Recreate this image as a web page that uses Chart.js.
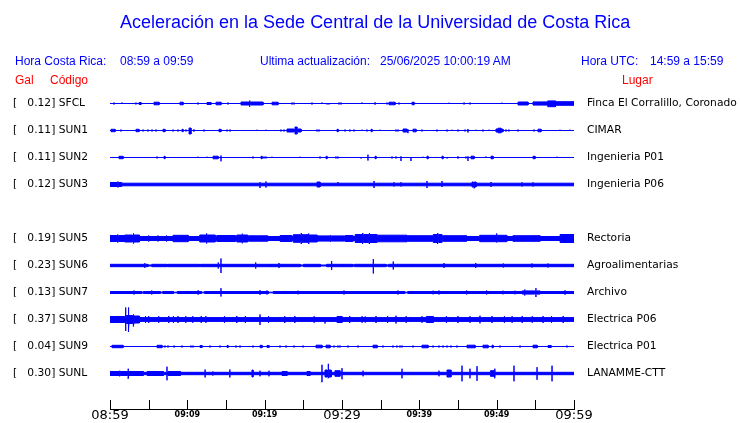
<!DOCTYPE html>
<html>
<head>
<meta charset="utf-8">
<script src="https://cdn.jsdelivr.net/npm/chart.js@4.4.1/dist/chart.umd.min.js"></script>
<style>
  html, body { margin: 0; padding: 0; background: #fff; }
  #wrap { position: relative; width: 740px; height: 423px; overflow: hidden; }
  canvas { position: absolute; left: 0; top: 0; }
  .t { position: absolute; white-space: pre; font-family: "Liberation Sans", Arial, sans-serif;
       font-size: 12px; line-height: 12px; color: #0000ff; }
  .r { color: #ff0000; }
  #title { font-size: 18px; line-height: 18px; left: 120px; top: 13px; }
</style>
</head>
<body>
<div id="wrap">
  <canvas id="c" width="740" height="423"></canvas>
  <div class="t" id="title">Aceleración en la Sede Central de la Universidad de Costa Rica</div>
  <div class="t" style="left:15px;top:55px">Hora Costa Rica:</div>
  <div class="t" style="left:120px;top:55px">08:59 a 09:59</div>
  <div class="t" style="left:260px;top:55px">Ultima actualización:</div>
  <div class="t" style="left:380px;top:55px">25/06/2025 10:00:19 AM</div>
  <div class="t" style="left:581px;top:55px">Hora UTC:</div>
  <div class="t" style="left:650px;top:55px">14:59 a 15:59</div>
  <div class="t r" style="left:15px;top:74px">Gal</div>
  <div class="t r" style="left:50px;top:74px">Código</div>
  <div class="t r" style="left:622px;top:74px">Lugar</div>
</div>
<script>
// stations, top to bottom (slot 4 is left empty)
const stations = ['SFCL', 'SUN1', 'SUN2', 'SUN3', 'SUN5', 'SUN6', 'SUN7', 'SUN8', 'SUN9', 'SUNL'];
const peakGal = ['0.12', '0.11', '0.11', '0.12', '0.19', '0.23', '0.13', '0.37', '0.04', '0.30'];
const places = ['Finca El Corralillo, Coronado', 'CIMAR', 'Ingenieria P01', 'Ingenieria P06', 'Rectoria',
  'Agroalimentarias', 'Archivo', 'Electrica P06', 'Electrica P01', 'LANAMME-CTT'];
const rowSlots = [0, 1, 2, 3, 5, 6, 7, 8, 9, 10];
const timeLabels = ['08:59', '09:09', '09:19', '09:29', '09:39', '09:49', '09:59'];

// background noise half-width of each trace
const noiseLevel = [0, 0, 0, 1.3, 2, 1.2, 1, 1.9, 0, 1.2];

// bursts: [start min, end min, amplitude up, amplitude down]
const sfclEvents = [[0.52,0.52,1,1],[1.55,1.55,1,0.5],[3.36,3.36,1,1],[3.75,4.01,1,1],[5.69,6.34,1.3,1.3],[9.05,9.44,1.3,1.3],[11.38,11.38,1,1],[12.54,13.06,1,1],[13.71,14.35,1.3,1.3],[15.26,15.26,1,1],[16.94,18.0,1.5,1.5],[18.1,18.1,3,3.3],[18.2,19.78,1.5,1.5],[20.95,21.72,1.3,1.3],[23.53,23.53,1,1],[23.79,23.79,1,1],[26.12,26.12,1,1],[27.41,27.41,1,0],[28.06,28.06,0,1],[28.32,28.32,0,1],[29.61,29.61,1,1],[29.87,29.87,1,1],[32.59,32.59,1,0],[34.27,34.27,1.2,1.2],[35.82,35.82,1,1],[36.08,36.85,1.3,1.3],[37.37,37.37,1,1],[39.05,39.31,1.3,1.3],[43.84,43.84,0.8,0],[45.78,45.78,1,1],[46.55,46.55,1,1],[50.69,50.69,0.8,0],[52.76,54.05,1.5,1.5],[54.7,56.6,1.6,1.6],[56.6,57.6,2.6,3.2],[57.6,60,1.8,1.8]];
const sun1Events = [[0.13,0.65,1.2,1.2],[1.42,1.42,1,1],[3.36,3.75,1.2,1.2],[4.27,4.27,1,1],[4.91,4.91,1,1],[5.43,5.43,1,1],[5.95,5.95,1,1],[6.85,7.11,1.2,1.2],[8.15,8.15,1,1],[8.79,8.79,1,1],[9.31,9.44,1.2,1.2],[9.83,9.83,1,1],[10.22,10.47,2.5,3.5],[10.86,10.86,1.2,1.2],[12.16,12.16,1,1],[14.09,14.35,1.2,1.2],[15.13,15.13,1,1],[15.52,15.52,1,1],[19.01,19.01,0.8,0],[20.17,20.17,0.8,0],[22.11,22.11,1,1],[22.5,22.5,1,1],[22.89,23.79,1.5,1.5],[23.92,24.18,3.5,3.5],[24.31,24.7,1.5,1.5],[26.77,26.77,1,1],[27.03,27.03,1,1],[29.35,29.5,1.2,1.2],[30.39,30.39,1,1],[31.03,31.03,1,1],[31.55,31.55,1,1],[32.59,32.59,0.8,0],[33.23,33.23,1,1],[33.75,33.88,1.2,1.2],[34.91,34.91,0.8,0],[36.98,36.98,1,1],[37.24,37.24,1,1],[37.89,38.4,1.5,1.5],[38.53,38.53,1.2,2.7],[39.18,39.57,1.3,1.3],[40.34,40.34,1,1],[42.28,42.28,1,1],[43.58,43.58,1,1],[44.22,44.22,0.8,0],[45,45,1,1],[45.91,45.91,1,1],[46.29,46.29,1.5,2],[47.33,47.33,0.8,0],[48.23,48.23,1,1],[49.01,49.01,0.8,0],[49.91,50.17,1.5,1.5],[50.17,50.56,2.3,2.3],[50.56,50.82,1.3,1.3],[51.21,51.21,1,1],[51.59,51.59,1,1],[52.76,52.76,1,1],[54.83,54.83,1,1],[55.34,55.73,1.3,1.3],[58.19,58.19,0.8,0],[59.48,59.48,0.8,0]];
const sun2Events = [[1.16,1.68,1.2,1.2],[6.08,6.08,1,1],[6.98,7.11,1.2,1.2],[11.38,11.38,0.8,0],[12.54,12.54,0.8,0],[13.32,13.97,1.3,1.3],[14.35,14.35,2,3.8],[18.49,18.49,1,1],[19.53,19.66,1.2,1.2],[19.91,19.91,1,1],[20.17,20.17,1,1],[20.95,20.95,0.8,0],[24.57,24.57,0.8,0],[27.16,27.16,1,1],[27.93,28.06,1.2,1.2],[29.22,29.22,1,1],[29.48,29.48,1,1],[32.46,32.46,0,1],[33.36,33.36,2.8,3],[34.27,34.4,1.2,1.2],[36.47,36.47,1,1],[36.98,36.98,1,1],[37.63,37.63,1.2,3.5],[38.92,38.92,0,3.5],[40.47,40.47,0.8,0],[40.99,41.12,1.3,1.3],[42.93,43.06,1.3,1.3],[43.58,43.58,0,1],[45,45,1.2,1.2],[46.03,46.03,1,1],[46.29,46.29,1.2,3.5],[46.68,47.07,1.3,1.3],[48.62,48.62,1,0],[49.27,49.53,1.3,1.3],[54.7,54.96,1.2,1.2],[57.8,57.8,0.8,0]];
const sun3Events = [[0,0.9,2,2],[1.03,1.03,3,3],[1.1,1.5,2,2],[19.4,19.4,2.3,3.5],[20.17,20.17,3,3],[26.77,27.16,2.5,2.5],[29.48,29.48,2.5,1.5],[34.14,34.14,3.5,3.5],[36.72,36.72,2.3,2],[37.63,37.63,2.3,2],[40.99,40.99,3.5,3.5],[42.93,42.93,3.5,2.5],[46.81,47.0,2.5,2.5],[47.07,47.07,2.5,3.8],[47.15,47.33,2.5,2.5],[49.27,49.27,2.5,2.5],[53.28,53.28,2.2,2],[54.7,54.7,2.2,2]];
const sun5Events = [[0,0.9,3,3],[1.0,1.0,4,4],[1.1,1.9,3,3],[1.9,2.9,3.5,3.5],[3.0,3.0,5,5],[3.1,3.8,3.5,3.5],[5.0,5.0,3,3],[6.2,6.2,3,3],[7.3,7.3,3,3],[8.15,10.1,3.2,3.2],[11.6,12.4,3.5,3.5],[12.5,12.5,5,5],[12.6,13.6,3.5,3.5],[13.8,16.2,3,3],[16.4,17.0,3.5,3.5],[17.1,17.1,4.8,4.8],[17.2,17.8,3.5,3.5],[17.9,20.4,2.7,2.7],[22.0,23.5,3,3],[23.7,24.6,3.8,3.8],[24.7,24.7,5.5,5.5],[24.8,25.6,3.8,3.8],[25.7,25.7,5,5.5],[25.8,26.8,3.5,3.5],[26.9,28.4,2.6,2.6],[28.5,28.5,3.5,3.5],[28.6,30.3,2.6,2.6],[30.4,31.4,3,3],[31.7,32.6,4,4],[32.7,32.7,5.5,5.5],[32.8,33.4,4,4],[33.5,33.5,5.3,5.5],[33.6,34.5,4,4],[34.6,38.4,3.3,3.3],[38.5,41.7,2.8,2.8],[41.8,42.3,4,4],[42.4,42.4,5.5,5.5],[42.5,42.9,4,4],[43.0,46.1,2.8,2.8],[47.8,49.9,3.2,3.2],[50.0,50.0,5,4],[50.1,51.3,3.2,3.2],[52.1,55.6,2.8,2.8],[58.2,60,4,4]];
const sun6Events = [[4.5,4.5,2.3,2.3],[4.9,5.4,0.5,0.5],[7.4,7.5,0.5,0.5],[11.6,11.7,0.5,0.5],[14.0,14.0,3,3],[14.35,14.35,7,7.5],[18.84,18.84,3,3],[20.7,20.7,0.5,0.5],[21.85,21.85,2.5,2.5],[24.6,25.0,0.5,0.5],[27.2,28.0,0.5,0.5],[28.66,28.66,4.5,4.5],[30.0,30.0,0.5,0.5],[31.4,31.6,0.5,0.5],[34.05,34.05,6.5,8],[35.7,36.0,0.5,0.5],[36.63,36.63,4,4],[38.9,38.9,0.5,0.5],[43.19,43.19,2.5,2.5],[47.29,47.29,2.5,2.5],[50.86,50.86,2,2],[54.57,54.57,2,2],[56.64,56.64,2,2]];
const sun7Events = [[3.1,3.1,2,2],[4.1,4.3,0.3,0.3],[5.4,5.4,2,2],[6.5,6.8,0.3,0.3],[8.2,8.7,0.3,0.3],[11.4,11.4,2.2,2.2],[11.8,12.2,0.3,0.3],[14.35,14.35,4.3,4],[19.4,19.4,2.3,2.3],[20.3,20.3,2,2],[20.5,21.1,0.3,0.3],[24.31,24.31,1.8,1.8],[30.26,30.26,2,2],[37.24,37.24,2,2],[38.1,38.5,0.3,0.3],[41.77,41.77,1.8,1.8],[42.54,42.54,2,2],[46.12,46.12,2,2],[48.7,48.7,2,2],[50.82,50.82,1.8,1.8],[52.37,52.37,1.8,1.8],[53.3,53.6,1.6,1.6],[53.66,53.66,3,3],[53.75,54.9,1.6,1.6],[55.08,55.08,4.3,4.5],[55.2,55.6,1.6,1.6],[58.84,58.84,2.2,2.2]];
const sun8Events = [[0,1.9,3,3],[2.03,2.03,12,11.5],[2.1,2.3,4,4],[2.37,2.37,12,12.5],[2.45,2.9,4,4],[3.0,3.0,5,7],[3.1,3.8,3.5,3.5],[4.6,4.6,3.3,3.3],[5.0,5.0,3.5,3.5],[6.3,6.3,3.3,3.3],[7.6,7.6,3.5,3.5],[8.2,8.2,3.3,3.3],[8.8,8.8,3.5,3.5],[9.8,9.8,3.3,3.3],[10.7,10.7,3.3,3.3],[11.8,11.8,3.5,3.5],[12.4,12.4,3.3,3.3],[14.8,14.8,3.3,3.3],[16.4,16.4,3.5,3.5],[17.5,17.5,3.3,3.3],[19.4,19.4,5,5.5],[20.5,20.5,3.3,3.3],[22.6,22.6,3.3,3.5],[23.9,23.9,3.5,3.5],[26.4,26.4,3.3,3.3],[27.8,27.8,2.5,4],[29.35,30.0,3,3],[31.0,31.0,3.5,3.5],[32.6,32.6,3.3,3.3],[33.0,33.0,3,3],[34.4,34.4,3.5,3.5],[35.9,35.9,3.3,3.3],[36.98,36.98,3.8,4],[38.3,38.3,3.3,3.3],[40.34,40.34,3.3,3.3],[40.9,41.8,3,3],[43.5,43.5,3.3,3.3],[45.0,45.0,3.5,3.5],[46.55,46.55,3.3,3.3],[47.84,47.84,3.8,3.8],[49.4,49.4,3.5,3.5],[51.0,51.0,3.3,3.3],[52.0,52.0,3.3,3.3],[53.3,53.3,3.5,3.5],[54.6,54.6,3.3,3.3],[56.0,56.0,3.5,3.5],[57.1,57.1,3.3,3.3],[58.6,58.6,3.5,3.5]];
const sun9Events = [[0.26,1.68,1.2,1.2],[6.08,6.72,1.2,1.2],[7.11,7.11,1,1],[7.5,7.5,1,1],[8.28,8.28,1,1],[9.31,9.31,1,1],[10.47,10.47,1,1],[10.73,10.73,1,1],[11.64,11.9,1,1],[12.93,12.93,1,1],[14.22,14.22,1,1],[15.13,15.26,1,1],[16.29,16.29,1,1],[16.81,16.81,1,1],[18.49,18.49,1,1],[19.4,19.66,1.2,1.2],[20.3,20.56,1,1],[21.98,21.98,1,1],[22.76,22.76,1,1],[23.79,23.79,1,1],[24.96,24.96,1,1],[26.64,27.41,1.3,1.3],[27.93,28.45,1.3,1.3],[28.97,28.97,1,1],[29.48,29.48,1,1],[29.74,29.74,1,1],[30.78,30.78,1,1],[32.07,32.07,1,1],[34.01,34.53,1.3,1.3],[35.3,35.3,1,1],[36.59,36.59,1,1],[37.11,37.11,1,1],[37.5,37.5,1,1],[37.76,37.76,1,1],[39.18,39.18,1,1],[40.34,41.12,1.3,1.3],[41.77,41.77,1,1],[42.54,42.54,1,1],[43.06,43.06,1,1],[43.58,43.58,1,1],[44.09,44.09,1,1],[44.87,44.87,1,1],[46.16,47.2,1.3,1.3],[48.23,48.88,1.3,1.3],[49.4,49.53,1.3,1.3],[50.43,50.43,1,1],[53.02,53.02,1,1],[54.7,55.22,1.3,1.3],[56.64,57.03,1,1],[59.09,59.09,1,1]];
const sunlEvents = [[0,1.2,2,2],[1.29,1.29,2.8,2.8],[1.35,2.25,2,2],[2.33,2.33,4.8,5.3],[2.4,4.3,2,2],[4.8,6.9,2,2],[7.37,7.37,6.8,6.8],[7.5,9.1,2,2],[12.3,12.3,4,4],[13.3,13.3,2,2],[15.5,15.5,4,4],[18.36,18.49,3.5,3.5],[19.4,19.4,2.8,2.8],[20.56,20.56,2.8,2.8],[22.24,22.89,2,2],[25.47,25.86,2,2],[27.41,27.41,8.7,8.7],[27.8,28.1,3.5,3.5],[28.19,28.19,9.7,4.8],[28.3,28.6,3.5,3.5],[29.09,29.74,2.8,2.8],[30,30,5.3,5.8],[32.72,32.72,2.8,2.8],[37.76,37.76,4.8,4.8],[42.54,42.54,2.8,2.8],[43.58,44.09,3.5,3.5],[45.52,45.52,7.8,7.8],[46.55,46.55,4.8,4.8],[47.46,47.46,7.3,7.3],[49.2,49.7,2.8,2.8],[49.78,49.78,4.8,4.8],[52.24,52.24,7.8,7.8],[55.22,55.22,6.3,6.3],[57.16,57.16,7.8,7.8]];

const traceEvents = [sfclEvents, sun1Events, sun2Events, sun3Events, sun5Events,
  sun6Events, sun7Events, sun8Events, sun9Events, sunlEvents];

const ROW = 27;        // y units between two trace baselines
const SPAN = 60;       // minutes shown

// closed outline of one trace: upper envelope left->right, lower back right->left
function tracePolygon(events, n, base) {
  const up = [{ x: 0, y: base - n }];
  const lo = [{ x: 0, y: base + n }];
  events.forEach(([t0, t1, a, b]) => {
    up.push({ x: t0, y: base - n }, { x: t0, y: base - a }, { x: t1, y: base - a }, { x: t1, y: base - n });
    lo.push({ x: t0, y: base + n }, { x: t0, y: base + b }, { x: t1, y: base + b }, { x: t1, y: base + n });
  });
  up.push({ x: SPAN, y: base - n });
  lo.push({ x: SPAN, y: base + n });
  return up.concat(lo.reverse(), [up[0]]);
}

const datasets = stations.map((s, i) => ({
  label: s,
  data: tracePolygon(traceEvents[i], noiseLevel[i], rowSlots[i] * ROW),
  borderColor: '#0000ff',
  backgroundColor: '#0000ff',
  borderWidth: 1,
  pointRadius: 0,
  tension: 0,
  fill: 'shape'
}));

// short tick marks pointing up from the time axis
const tickMarks = {
  id: 'tickMarks',
  afterDraw(chart) {
    const { ctx, chartArea } = chart;
    const x = chart.scales.x;
    ctx.save();
    ctx.strokeStyle = '#000';
    ctx.lineWidth = 1;
    x.ticks.forEach(t => {
      const px = Math.round(x.getPixelForValue(t.value)) + 0.5;
      ctx.beginPath();
      ctx.moveTo(px, chartArea.bottom - 9);
      ctx.lineTo(px, chartArea.bottom);
      ctx.stroke();
    });
    ctx.restore();
  }
};

const labelFont = { family: 'DejaVu Sans', size: 10.7 };

function noEdgePadding(s) {
  s.paddingTop = 0; s.paddingBottom = 0; s.paddingLeft = 0; s.paddingRight = 0;
}

new Chart(document.getElementById('c'), {
  type: 'line',
  data: { datasets },
  options: {
    responsive: false,
    animation: false,
    events: [],
    layout: { padding: { top: 89, left: 13, right: 0, bottom: 0 } },
    plugins: { legend: { display: false }, tooltip: { enabled: false } },
    scales: {
      x: {
        type: 'linear', min: 0, max: SPAN,
        grid: { display: false, drawTicks: false },
        border: { display: true, color: '#000', width: 1 },
        afterFit: s => { s.height = 14; noEdgePadding(s); },
        ticks: {
          stepSize: 5, autoSkip: false, maxRotation: 0, padding: 0, color: '#000',
          callback: v => (v % 10 === 0 ? timeLabels[v / 10] : ''),
          font: ctx => (ctx.tick && ctx.tick.value % 30 === 0)
            ? { family: 'DejaVu Sans', size: 13, lineHeight: 1 }
            : { family: 'DejaVu Sans', size: 8, weight: 'bold', lineHeight: 1.5 }
        }
      },
      y: {
        type: 'linear', position: 'left', reverse: true, min: -14.5, max: 305.5,
        grid: { display: false, drawTicks: false }, border: { display: false },
        afterBuildTicks: s => { s.ticks = rowSlots.map(k => ({ value: k * ROW })); },
        afterFit: s => { s.width = 97; noEdgePadding(s); },
        ticks: {
          autoSkip: false, crossAlign: 'far', padding: 0, color: '#000', font: labelFont,
          callback: (v, i) => '[   ' + peakGal[i] + '] ' + stations[i]
        }
      },
      y2: {
        type: 'linear', position: 'right', reverse: true, min: -14.5, max: 305.5,
        grid: { display: false, drawTicks: false }, border: { display: false },
        afterBuildTicks: s => { s.ticks = rowSlots.map(k => ({ value: k * ROW })); },
        afterFit: s => { s.width = 166; noEdgePadding(s); },
        ticks: {
          autoSkip: false, padding: 13, color: '#000', font: labelFont,
          callback: (v, i) => places[i]
        }
      }
    }
  },
  plugins: [tickMarks]
});
</script>
</body>
</html>
